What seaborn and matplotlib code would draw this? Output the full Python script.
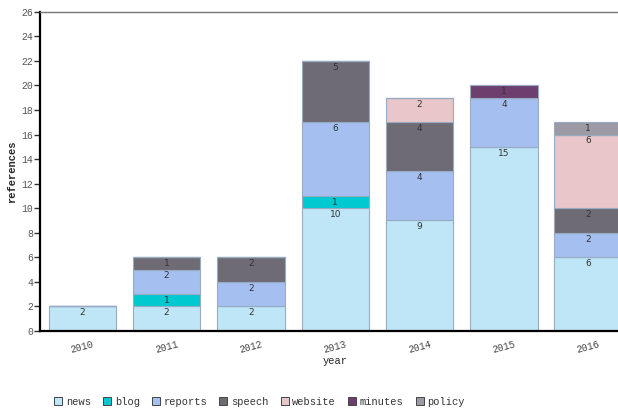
import seaborn as sns
import matplotlib.pyplot as plt
import pandas as pd
from matplotlib.patches import Patch

# datos
years = [2010, 2011, 2012, 2013, 2014, 2015, 2016]
types = ["news", "blog", "reports", "speech", "website", "minutes", "policy"]
news = [2, 2, 2, 10, 9, 15, 6]
blog = [0, 1, 0, 1, 0, 0, 0]
reports = [0, 2, 2, 6, 4, 4, 2]
speech = [0, 1, 2, 5, 4, 0, 2]
website = [0, 0, 0, 0, 2, 0, 6]
minutes = [0, 0, 0, 0, 0, 1, 0]
policy = [0, 0, 0, 0, 0, 0, 1]
colors = ["#bfe6f7", "#00c9cf", "#a5bff0", "#6f6b75", "#e8c6ca", "#6e3f6e", "#9c9ba5"]

series = {"news": news, "blog": blog, "reports": reports, "speech": speech,
          "website": website, "minutes": minutes, "policy": policy}
rows = [(y, t, series[t][i]) for t in types for i, y in enumerate(years) if series[t][i] > 0]
df = pd.DataFrame(rows, columns=["year", "type", "count"])
palette = dict(zip(types, colors))

sns.set_style("white")
mono = "Liberation Mono"
plt.rcParams["font.family"] = [mono, "DejaVu Sans"]

fig = plt.figure(figsize=(6.18, 4.08), dpi=100)
ax = fig.add_axes([0.065, 0.189, 0.955, 0.782])

# histplot apila el ultimo nivel abajo, asi que se invierte el orden
sns.histplot(data=df, x="year", weights="count", hue="type", hue_order=types[::-1],
             palette=palette, multiple="stack", discrete=True, shrink=0.8,
             alpha=1, edgecolor="#97abc2", linewidth=0.8, legend=False, ax=ax)

# etiquetas dentro de cada segmento
for i, y in enumerate(years):
    base = 0
    for t in types:
        v = series[t][i]
        if v > 0:
            ax.text(y, base + v - 0.15, str(v), ha="center", va="top",
                    fontsize=6.5, color="#333333", family="DejaVu Sans")
        base += v

ax.set_xlim(2009.5, 2016.5)
ax.set_ylim(0, 26)
ax.set_yticks(range(0, 27, 2))
ax.set_xticks([y + 0.5 for y in years[:-1]])
ax.set_xticklabels([])
ax.set_xticks(years, minor=True)
ax.set_xticklabels([str(y) for y in years], minor=True, rotation=15, fontsize=7, color="#444444")
ax.tick_params(axis="x", which="minor", length=0, pad=6)
ax.tick_params(axis="x", which="major", length=4, width=1, color="#333333", direction="out")
ax.tick_params(axis="y", length=4, width=1, color="#333333", labelsize=7, labelcolor="#555555",
               direction="out", left=True, pad=1)

for s in ["left", "bottom"]:
    ax.spines[s].set_color("black")
    ax.spines[s].set_linewidth(1.6)
ax.spines["top"].set_color("#777777")
ax.spines["top"].set_linewidth(1)
ax.spines["right"].set_visible(False)

ax.set_xlabel("year", fontsize=7.5, labelpad=1)
ax.set_ylabel("references", fontsize=7.5, fontweight="bold", labelpad=3)

handles = [Patch(facecolor=c, edgecolor="#444444", linewidth=0.7) for c in colors]
fig.legend(handles, types, loc="lower center", bbox_to_anchor=(0.42, -0.02), ncol=7,
           frameon=False, fontsize=7.5, handlelength=0.75, handleheight=0.75,
           handletextpad=0.35, columnspacing=1.18, labelcolor="#333333")

plt.savefig("out.png", dpi=100)
